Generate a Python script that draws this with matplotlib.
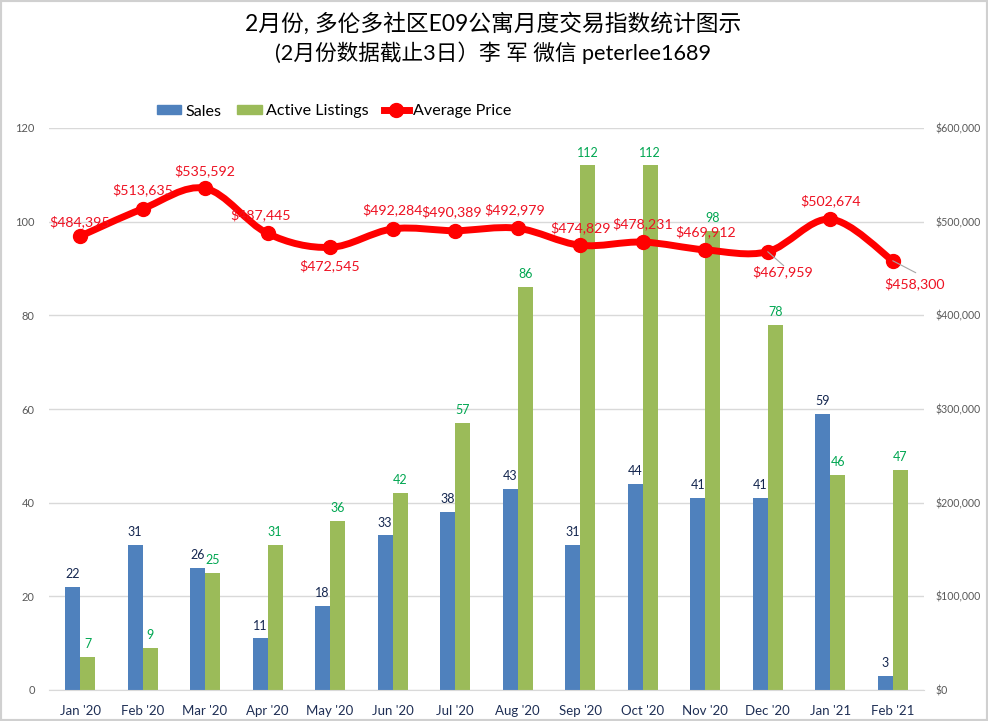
import matplotlib
matplotlib.use('Agg')
import matplotlib.pyplot as plt
from matplotlib.path import Path
from matplotlib.patches import PathPatch, Rectangle
from matplotlib.ticker import FuncFormatter
from matplotlib.lines import Line2D
import numpy as np

plt.rcParams['font.family'] = ['Lato', 'Noto Sans CJK SC', 'DejaVu Sans']

months = ["Jan '20", "Feb '20", "Mar '20", "Apr '20", "May '20", "Jun '20", "Jul '20",
          "Aug '20", "Sep '20", "Oct '20", "Nov '20", "Dec '20", "Jan '21", "Feb '21"]
sales = [22, 31, 26, 11, 18, 33, 38, 43, 31, 44, 41, 41, 59, 3]
listings = [7, 9, 25, 31, 36, 42, 57, 86, 112, 112, 98, 78, 46, 47]
price = [484395, 513635, 535592, 487445, 472545, 492284, 490389, 492979,
         474829, 478231, 469912, 467959, 502674, 458300]
# label offsets from the marker, in pixels
offs = [(0, 15), (0, 19), (0, 18), (-7, 19), (0, -18), (0, 19), (-3, 19), (-3, 19),
        (0, 18), (0, 18), (0, 18), (15, -20), (0, 18), (22, -23)]

W, H = 988, 721
fig = plt.figure(figsize=(W / 100, H / 100), dpi=100)
ax = fig.add_axes([48.75 / W, 1 - 690 / H, (924 - 48.75) / W, (690 - 128) / H])
ax2 = ax.twinx()

x = np.arange(len(months))
bw = 0.24
ax.bar(x - bw / 2, sales, bw, color='#4f81bd', zorder=2)
ax.bar(x + bw / 2, listings, bw, color='#9bbb59', zorder=2)

ax.set_xlim(-0.5, len(months) - 0.5)
ax.set_ylim(0, 120)
ax.set_yticks(range(0, 121, 20))
ax.set_xticks(x)
ax.set_xticklabels(months, color='#1f2f55', fontsize=9.5)
ax.grid(axis='y', color='#d9d9d9', lw=1, zorder=0)
ax.set_axisbelow(True)
ax.tick_params(axis='y', length=0, labelsize=8, labelcolor='#595959', pad=10)
ax.tick_params(axis='x', length=0, pad=10.5)
for s in ax.spines.values():
    s.set_visible(False)
ax.spines['bottom'].set_visible(True)
ax.spines['bottom'].set_color('#d9d9d9')

ax2.set_ylim(0, 600000)
ax2.set_yticks(range(0, 600001, 100000))
ax2.yaxis.set_major_formatter(FuncFormatter(lambda v, p: '${:,.0f}'.format(v)))
ax2.tick_params(axis='y', length=0, labelsize=7.6, labelcolor='#595959', pad=8)
for s in ax2.spines.values():
    s.set_visible(False)

# bar labels
for i in range(len(months)):
    ax.annotate(str(sales[i]), (x[i] - bw / 2, sales[i]), xytext=(0, 5), textcoords='offset points',
                ha='center', va='bottom', fontsize=9, color='#14264f', zorder=5)
    ax.annotate(str(listings[i]), (x[i] + bw / 2, listings[i]), xytext=(0, 5), textcoords='offset points',
                ha='center', va='bottom', fontsize=9, color='#00a651', zorder=5)

# smooth line like excel, bezier through the data points
pts = np.column_stack([x, price]).astype(float)
verts = [pts[0]]
codes = [Path.MOVETO]
for i in range(len(pts) - 1):
    p0 = pts[max(i - 1, 0)]
    p1 = pts[i]
    p2 = pts[i + 1]
    p3 = pts[min(i + 2, len(pts) - 1)]
    verts += [p1 + (p2 - p0) / 6, p2 - (p3 - p1) / 6, p2]
    codes += [Path.CURVE4] * 3
ax2.add_patch(PathPatch(Path(verts, codes), fc='none', ec='#ff0000', lw=5, capstyle='round', zorder=4))
ax2.plot(x, price, ls='none', marker='o', ms=10, color='#ff0000', zorder=5)

# leader lines for the two labels that sit off to the side
for i, end in ((11, (16, -14)), (13, (23, -12))):
    ax2.annotate('', (x[i], price[i]), xytext=(end[0] * 0.72, end[1] * 0.72), textcoords='offset points',
                 arrowprops=dict(arrowstyle='-', color='#a6a6a6', lw=0.8, shrinkA=0, shrinkB=0), zorder=6)

for i in range(len(months)):
    ax2.annotate('${:,}'.format(price[i]), (x[i], price[i]),
                 xytext=(offs[i][0] * 0.72, offs[i][1] * 0.72), textcoords='offset points',
                 ha='center', va='center', fontsize=10.2, color='#ee1122', zorder=7)

fig.text(493 / W, 1 - 24 / H, '2月份, 多伦多社区E09公寓月度交易指数统计图示', ha='center', va='center',
         fontsize=16.4, color='black')
fig.text(493 / W, 1 - 53 / H, '(2月份数据截止3日）李 军 微信 peterlee1689', ha='center', va='center',
         fontsize=15.6, color='black')

handles = [Rectangle((0, 0), 1, 1, color='#4f81bd'), Rectangle((0, 0), 1, 1, color='#9bbb59'),
           Line2D([], [], color='#ff0000', lw=5, marker='o', ms=10)]
fig.legend(handles, ['Sales', 'Active Listings', 'Average Price'], ncol=3, frameon=False, fontsize=11.6,
           loc='center', bbox_to_anchor=(334 / W, 1 - 111.5 / H), handlelength=1.5, handleheight=0.5,
           columnspacing=1.0, handletextpad=0.25)

# thin grey picture border
fig.add_artist(Rectangle((0, 0), 1, 1, transform=fig.transFigure, fc='none', ec='#d0d0d0', lw=3))

fig.savefig('out.png', dpi=100)
